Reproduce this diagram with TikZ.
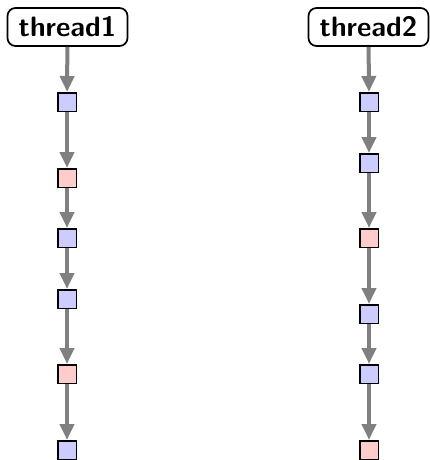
\documentclass[tikz,border=0pt]{standalone}
\usetikzlibrary{arrows.meta}
\begin{document}
\begin{tikzpicture}[x=1pt,y=-1pt,
  thread/.style={draw,line width=1.7pt,rounded corners=8pt,minimum width=120pt,minimum height=38pt,inner sep=0pt,font=\fontsize{28}{31}\selectfont\sffamily\bfseries},
  ev/.style={draw,line width=1.5pt,minimum size=18.5pt,inner sep=0pt},
  bl/.style={ev,fill=blue!20},
  rd/.style={ev,fill=red!20},
  flow/.style={draw=gray,line width=4pt,-{Triangle[width=14pt,length=16pt]}}
]
\useasboundingbox (0,0) rectangle (429,460);
\node[thread] (t1) at (67.5,27) {thread1};
\node[thread] (t2) at (368.5,27) {thread2};
% left column
\node[bl] (a1) at (67,102) {};
\node[rd] (a2) at (67,178) {};
\node[bl] (a3) at (67,238) {};
\node[bl] (a4) at (67,299) {};
\node[rd] (a5) at (67,374) {};
\node[bl] (a6) at (67,450) {};
% right column
\node[bl] (b1) at (369,102) {};
\node[bl] (b2) at (369,163) {};
\node[rd] (b3) at (369,238) {};
\node[bl] (b4) at (369,314) {};
\node[bl] (b5) at (369,374) {};
\node[rd] (b6) at (369,450) {};
\draw[flow] (t1) -- (a1);
\draw[flow] (a1) -- (a2);
\draw[flow] (a2) -- (a3);
\draw[flow] (a3) -- (a4);
\draw[flow] (a4) -- (a5);
\draw[flow] (a5) -- (a6);
\draw[flow] (t2) -- (b1);
\draw[flow] (b1) -- (b2);
\draw[flow] (b2) -- (b3);
\draw[flow] (b3) -- (b4);
\draw[flow] (b4) -- (b5);
\draw[flow] (b5) -- (b6);
\end{tikzpicture}
\end{document}
